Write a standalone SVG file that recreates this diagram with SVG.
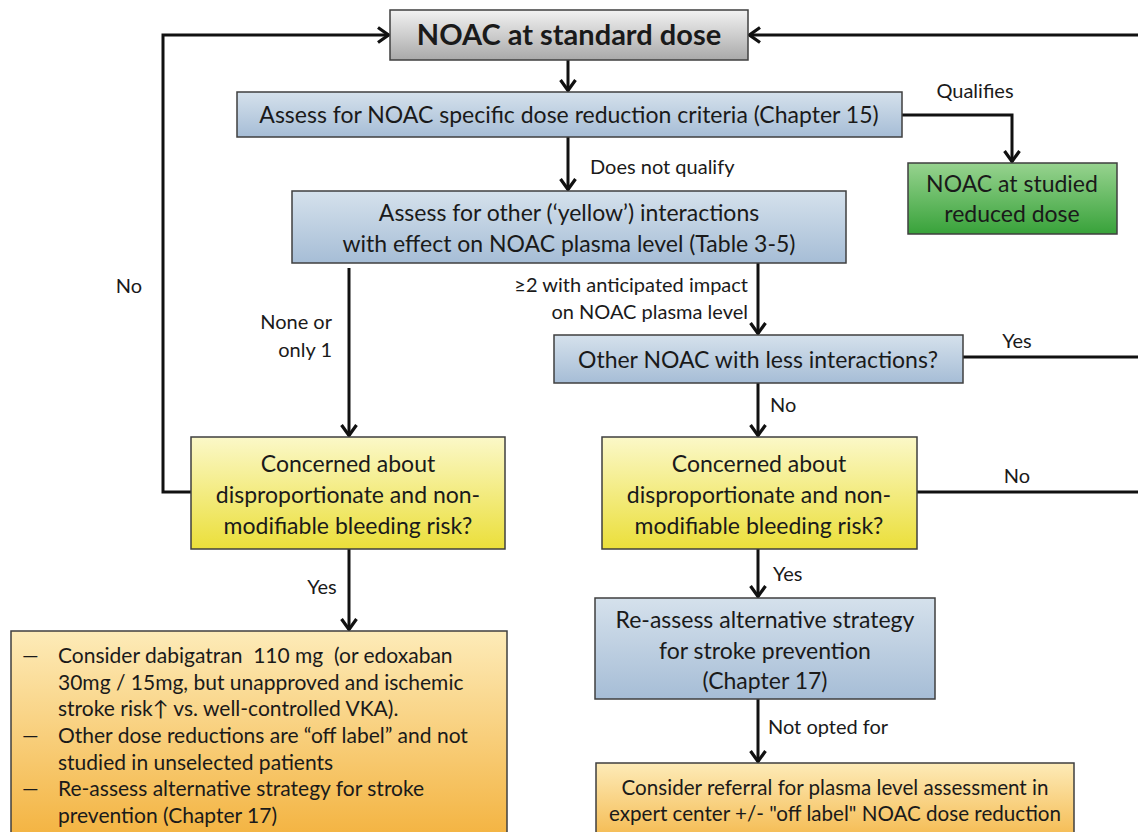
<svg xmlns="http://www.w3.org/2000/svg" width="1138" height="832" viewBox="0 0 1138 832">
<defs>
<linearGradient id="gGray" x1="0" y1="0" x2="0" y2="1"><stop offset="0" stop-color="#f2f2f2"/><stop offset="1" stop-color="#a9a9a9"/></linearGradient>
<linearGradient id="gBlue" x1="0" y1="0" x2="0" y2="1"><stop offset="0" stop-color="#d5e1ec"/><stop offset="1" stop-color="#a6bdd6"/></linearGradient>
<linearGradient id="gGreen" x1="0" y1="0" x2="0" y2="1"><stop offset="0" stop-color="#97d38f"/><stop offset="1" stop-color="#38a23a"/></linearGradient>
<linearGradient id="gYellow" x1="0" y1="0" x2="0" y2="1"><stop offset="0" stop-color="#fbf8c8"/><stop offset="1" stop-color="#ebdf3a"/></linearGradient>
<linearGradient id="gOrange" x1="0" y1="0" x2="0" y2="1"><stop offset="0" stop-color="#fdebb8"/><stop offset="1" stop-color="#f3b13c"/></linearGradient>
<marker id="arr" viewBox="0 0 14 18" refX="12.5" refY="9" markerWidth="14" markerHeight="18" markerUnits="userSpaceOnUse" orient="auto">
<path d="M1.5,1.5 L12,9 L1.5,16.5" fill="none" stroke="#111" stroke-width="3.2" stroke-linejoin="miter"/>
</marker>
</defs>
<style>
.box{stroke:#3f3f3f;stroke-width:1.5}
.t{font-family:Lato,"Open Sans","Liberation Sans",sans-serif;font-size:23px;fill:#1a1a1a;text-anchor:middle}
.tl{font-family:Lato,"Open Sans","Liberation Sans",sans-serif;font-size:21px;fill:#1a1a1a;white-space:pre}
.lab{font-family:Lato,"Open Sans","Liberation Sans",sans-serif;font-size:20px;fill:#1a1a1a}
.c{fill:none;stroke:#111;stroke-width:3}
</style>
<g id="connectors">
<line class="c" x1="568" y1="60" x2="568" y2="91" marker-end="url(#arr)"/>
<polyline class="c" points="902,115 1012,115 1012,162" marker-end="url(#arr)"/>
<line class="c" x1="568" y1="137" x2="568" y2="190" marker-end="url(#arr)"/>
<line class="c" x1="349" y1="268" x2="349" y2="436" marker-end="url(#arr)"/>
<line class="c" x1="758" y1="263" x2="758" y2="334" marker-end="url(#arr)"/>
<line class="c" x1="963" y1="357" x2="1138" y2="357"/>
<line class="c" x1="758" y1="383" x2="758" y2="436" marker-end="url(#arr)"/>
<line class="c" x1="917" y1="492" x2="1138" y2="492"/>
<polyline class="c" points="1138,35 749,35" marker-end="url(#arr)"/>
<polyline class="c" points="191,492 163,492 163,35 389,35" marker-end="url(#arr)"/>
<line class="c" x1="349" y1="549" x2="349" y2="630" marker-end="url(#arr)"/>
<line class="c" x1="758" y1="549" x2="758" y2="597" marker-end="url(#arr)"/>
<line class="c" x1="758" y1="699" x2="758" y2="762" marker-end="url(#arr)"/>
<text class="lab" x="975" y="98" text-anchor="middle">Qualifies</text>
<text class="lab" x="590" y="174">Does not qualify</text>
<text class="lab" x="129" y="293" text-anchor="middle">No</text>
<text class="lab" x="332" y="329" text-anchor="end">None or</text>
<text class="lab" x="332" y="357" text-anchor="end">only 1</text>
<text class="lab" x="748" y="292" text-anchor="end">≥2 with anticipated impact</text>
<text class="lab" x="748" y="319" text-anchor="end">on NOAC plasma level</text>
<text class="lab" x="1017" y="348" text-anchor="middle">Yes</text>
<text class="lab" x="770" y="412">No</text>
<text class="lab" x="1017" y="483" text-anchor="middle">No</text>
<text class="lab" x="322" y="594" text-anchor="middle">Yes</text>
<text class="lab" x="773" y="581">Yes</text>
<text class="lab" x="768" y="734">Not opted for</text>
</g>
<g id="n-standard">
<rect class="box" x="390" y="10" width="358" height="50" fill="url(#gGray)"/>
<text class="t" x="569" y="45" style="font-size:29px;font-weight:bold">NOAC at standard dose</text>
</g>
<g id="n-assess">
<rect class="box" x="237" y="92" width="665" height="45" fill="url(#gBlue)"/>
<text class="t" x="569" y="123">Assess for NOAC specific dose reduction criteria (Chapter 15)</text>
</g>
<g id="n-reduced">
<rect class="box" x="908" y="163" width="209" height="71" fill="url(#gGreen)"/>
<text class="t" x="1012" y="192">NOAC at studied</text>
<text class="t" x="1012" y="222">reduced dose</text>
</g>
<g id="n-other">
<rect class="box" x="292" y="191" width="554" height="72" fill="url(#gBlue)"/>
<text class="t" x="569" y="221">Assess for other (‘yellow’) interactions</text>
<text class="t" x="569" y="252">with effect on NOAC plasma level (Table 3-5)</text>
</g>
<g id="n-less">
<rect class="box" x="554" y="335" width="409" height="48" fill="url(#gBlue)"/>
<text class="t" x="758" y="368">Other NOAC with less interactions?</text>
</g>
<g id="n-concern-left">
<rect class="box" x="191" y="437" width="314" height="112" fill="url(#gYellow)"/>
<text class="t" x="348" y="472">Concerned about</text>
<text class="t" x="348" y="503">disproportionate and non-</text>
<text class="t" x="348" y="534">modifiable bleeding risk?</text>
</g>
<g id="n-concern-right">
<rect class="box" x="602" y="437" width="315" height="112" fill="url(#gYellow)"/>
<text class="t" x="759" y="472">Concerned about</text>
<text class="t" x="759" y="503">disproportionate and non-</text>
<text class="t" x="759" y="534">modifiable bleeding risk?</text>
</g>
<g id="n-consider">
<rect class="box" x="11" y="631" width="496" height="215" fill="url(#gOrange)"/>
<text class="tl" x="22" y="663">—</text>
<text class="tl" x="58" y="663">Consider dabigatran  110 mg  (or edoxaban</text>
<text class="tl" x="58" y="690">30mg / 15mg, but unapproved and ischemic</text>
<text class="tl" x="58" y="716">stroke risk↑ vs. well-controlled VKA).</text>
<text class="tl" x="22" y="743">—</text>
<text class="tl" x="58" y="743">Other dose reductions are “off label” and not</text>
<text class="tl" x="58" y="770">studied in unselected patients</text>
<text class="tl" x="22" y="796">—</text>
<text class="tl" x="58" y="796">Re-assess alternative strategy for stroke</text>
<text class="tl" x="58" y="823">prevention (Chapter 17)</text>
</g>
<g id="n-reassess">
<rect class="box" x="595" y="598" width="340" height="101" fill="url(#gBlue)"/>
<text class="t" x="765" y="628">Re-assess alternative strategy</text>
<text class="t" x="765" y="659">for stroke prevention</text>
<text class="t" x="765" y="689">(Chapter 17)</text>
</g>
<g id="n-referral">
<rect class="box" x="596" y="763" width="478" height="90" fill="url(#gOrange)"/>
<text class="t" x="835" y="795" style="font-size:20.6px">Consider referral for plasma level assessment in</text>
<text class="t" x="835" y="821" style="font-size:20.6px">expert center +/- "off label" NOAC dose reduction</text>
</g>
</svg>
